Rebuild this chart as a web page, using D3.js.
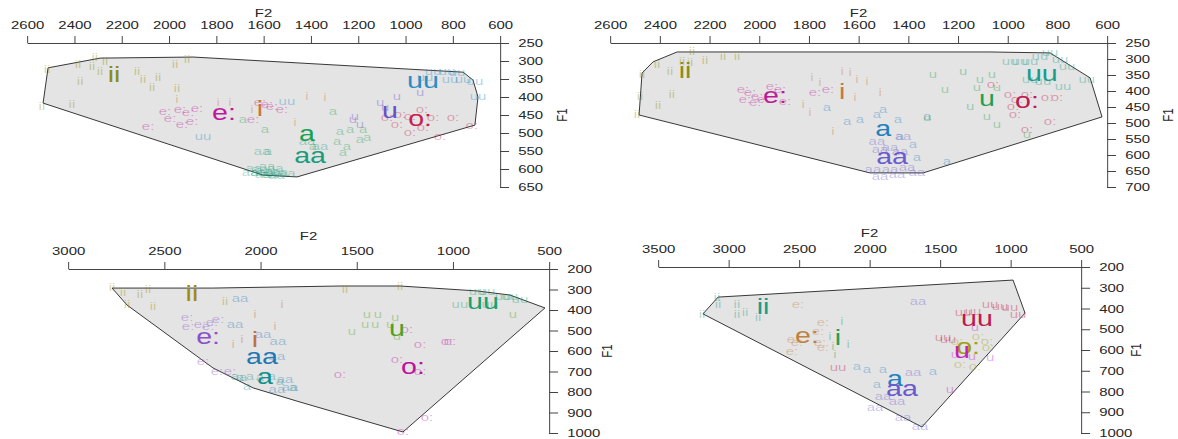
<!DOCTYPE html>
<html>
<head>
<meta charset="utf-8">
<script src="https://cdn.jsdelivr.net/npm/d3@7"></script>
<style>
body { margin: 0; background: #fff; }
svg { display: block; }
text { font-family: "Liberation Sans", Arial, sans-serif; }
</style>
</head>
<body>
<svg id="chart" width="1178" height="439"></svg>
<script>
// ---- data: [vowel, F2, F1] ----

const p1F2Ticks = [2600, 2400, 2200, 2000, 1800, 1600, 1400, 1200, 1000, 800, 600];
const p1F1Ticks = [250, 300, 350, 400, 450, 500, 550, 600, 650];
const p1Means = [["ii",2232,342],["e:",1767,447],["i",1615,436],["a",1416,506],["aa",1403,567],["u",1065,442],["uu",926,358],["o:",938,464]];
const p1Hull = [[2532,417],[2511,319],[2291,292],[1898,289],[756,331],[714,353],[693,400],[706,478],[1458,622],[1602,617]];
const p1Tokens = [
  ["ii",2515,325],["ii",2384,311],["ii",2375,358],["ii",2325,317],["ii",2313,292],["ii",2291,331],["ii",2270,303],["ii",2135,331],
  ["ii",2110,353],["ii",2046,347],["ii",2071,375],["ii",1974,311],["ii",1923,297],["ii",1966,378],["ii",2410,422],["ii",2537,428],
  ["e:",2017,442],["e:",1953,436],["e:",1919,444],["e:",1881,433],["e:",1995,461],["e:",1945,478],["e:",1902,469],["e:",2088,483],
  ["e:",1585,422],["e:",1615,417],["e:",1564,428],["e:",1522,436],["e:",1644,464],
  ["i",1966,408],["i",1792,417],["i",1742,417],["i",1467,472],["i",1416,400],["i",1340,403],["i",1649,436],
  ["uu",1856,511],["uu",1501,414],["uu",883,331],["uu",824,331],["uu",782,333],["uu",756,353],["uu",811,353],["uu",706,358],["uu",693,400],["uu",917,347],
  ["u",1107,417],["u",1036,400],["u",938,389],["u",1213,456],["u",1222,464],["u",1192,478],["u",1086,431],
  ["o:",1078,458],["o:",1023,450],["o:",981,456],["o:",930,436],["o:",883,458],["o:",981,500],["o:",926,486],["o:",799,458],["o:",719,481],["o:",854,511],["o:",1036,478],
  ["a",1687,464],["a",1594,492],["a",1306,442],["a",1277,497],["a",1234,492],["a",1179,492],["a",1162,514],["a",1192,519],["a",1289,525],["a",1247,539],["a",1391,539],["a",1581,553],["a",1264,556],
  ["aa",1615,603],["aa",1585,594],["aa",1560,608],["aa",1530,611],["aa",1573,617],["aa",1602,617],["aa",1657,611],["aa",1606,553],["aa",1361,539],["aa",1416,525],
  ["aa",1640,600],["aa",1550,600],["aa",1590,610],["aa",1620,612],["aa",1545,620],["aa",1500,615]
];

const p2F2Ticks = [2600, 2400, 2200, 2000, 1800, 1600, 1400, 1200, 1000, 800, 600];
const p2F1Ticks = [250, 300, 350, 400, 450, 500, 550, 600, 650, 700];
const p2Means = [["ii",2298,341],["e:",1936,419],["i",1666,406],["a",1501,522],["aa",1465,609],["u",1083,428],["uu",862,350],["o:",922,434]];
const p2Hull = [[2483,475],[2471,344],[2427,309],[2330,278],[1071,278],[829,281],[668,359],[620,481],[1340,656],[1554,656]];
const p2Tokens = [
  ["ii",2471,350],["ii",2411,319],["ii",2359,341],["ii",2310,309],["ii",2278,313],["ii",2270,278],["ii",2218,306],["ii",2145,294],
  ["ii",2089,294],["ii",2351,413],["ii",2407,447],["ii",2479,419],["ii",2491,475],
  ["e:",2065,397],["e:",2037,406],["e:",2008,419],["e:",2016,438],["e:",1984,428],["e:",1948,388],["e:",1916,397],["e:",1896,434],
  ["e:",2057,428],["e:",1723,397],["e:",1775,406],
  ["i",1787,359],["i",1755,375],["i",1666,341],["i",1634,344],["i",1606,366],["i",1566,372],["i",1614,422],["i",1513,406],
  ["i",1795,469],["i",1823,444],["i",1703,528],
  ["a",1727,453],["a",1646,497],["a",1594,491],["a",1526,475],["a",1501,459],["a",1441,491],["a",1381,569],["a",1365,609],
  ["a",1244,622],["a",1324,481],["a",1433,544],
  ["aa",1526,559],["aa",1473,578],["aa",1421,544],["aa",1513,584],["aa",1542,647],["aa",1473,647],["aa",1405,641],["aa",1365,656],
  ["aa",1513,669],["aa",1445,663],["aa",1433,591],
  ["u",1300,350],["u",1179,341],["u",1111,366],["u",1063,350],["u",1123,391],["u",1043,391],["u",1151,450],["u",1083,481],
  ["u",1043,506],["u",1324,484],["u",1252,397],["u",922,538],
  ["uu",990,309],["uu",950,309],["uu",910,309],["uu",870,294],["uu",829,281],["uu",789,303],["uu",761,325],["uu",910,366],
  ["uu",858,372],["uu",777,388],["uu",681,366],
  ["o:",1059,381],["o:",990,413],["o:",962,428],["o:",922,413],["o:",978,450],["o:",970,475],["o:",841,422],["o:",801,422],
  ["o:",829,497],["o:",922,522]
];

const p3F2Ticks = [3000, 2500, 2000, 1500, 1000, 500];
const p3F1Ticks = [200, 300, 400, 500, 600, 700, 800, 900, 1000];
const p3Means = [["ii",2356,330],["e:",2272,537],["i",2028,551],["aa",1992,634],["a",1976,732],["u",1290,498],["uu",843,366],["o:",1207,683]];
const p3Hull = [[2771,293],[2246,293],[1586,283],[1274,283],[874,307],[703,327],[521,390],[1259,995],[1794,849],[2038,780],[2246,683],[2693,376]];
const p3Tokens = [
  ["ii",2771,293],["ii",2714,317],["ii",2693,376],["ii",2626,327],["ii",2584,302],["ii",2558,385],["ii",2184,361],["ii",1560,302],["ii",1274,288],
  ["e:",2381,439],["e:",2376,483],["e:",2314,473],["e:",2272,483],["e:",2252,463],["e:",2220,449],["e:",2298,654],["e:",2226,702],["e:",2158,702],
  ["i",2028,424],["i",2142,571],["i",2096,546],["i",1924,483],["i",1888,376],
  ["aa",2106,346],["aa",2132,473],["aa",1986,522],["aa",1909,556],["aa",1914,629],["aa",1872,741],["aa",1914,790],["aa",1846,780],
  ["a",2054,727],["a",2002,732],["a",1940,727],["a",1898,751],["a",1831,780],["a",2090,732],["a",2070,776],["a",2132,727],["a",2106,732],
  ["u",1524,507],["u",1456,473],["u",1404,473],["u",1326,473],["u",1300,439],["u",1290,532],["u",1446,424],["u",1389,424],["u",687,424],
  ["uu",963,376],["uu",874,312],["uu",822,312],["uu",807,376],["uu",739,337],["uu",703,337],["uu",651,351],
  ["o:",1238,498],["o:",1170,571],["o:",1030,556],["o:",1015,556],["o:",1290,644],["o:",1586,717],["o:",1170,702],["o:",1134,927],["o:",1259,995]
];

const p4F2Ticks = [3500, 3000, 2500, 2000, 1500, 1000, 500];
const p4F1Ticks = [200, 300, 400, 500, 600, 700, 800, 900, 1000];
const p4Means = [["ii",2755,398],["e:",2443,537],["i",2223,547],["a",1819,745],["aa",1770,793],["uu",1238,455],["o:",1301,590],["u",1344,610]];
const p4Hull = [[3181,426],[3074,345],[982,263],[897,422],[1628,971]];
const p4Tokens = [
  ["ii",3082,349],["ii",3074,383],["ii",3188,431],["ii",2940,383],["ii",2940,431],["ii",2883,422],["ii",2791,446],
  ["e:",2507,383],["e:",2330,470],["e:",2365,513],["e:",2543,552],["e:",2514,566],["e:",2550,610],["e:",2351,566],["e:",2330,590],
  ["i",2195,465],["i",2280,537],["i",2259,586],["i",2245,624],["i",2152,576],
  ["a",2089,682],["a",2018,696],["a",1904,696],["a",1947,769],["a",1550,706],
  ["aa",1656,369],["aa",1691,711],["aa",1904,827],["aa",1805,851],["aa",1961,880],["aa",1762,928],["aa",1642,971],
  ["uu",1337,422],["uu",1266,417],["uu",1145,383],["uu",1074,393],["uu",1004,398],["uu",947,431],["uu",1479,542],["uu",1443,552],["uu",2223,687],
  ["u",1394,624],["u",1273,634],["u",1429,793],["u",1145,639],["u",1252,494],
  ["o:",1379,561],["o:",1230,537],["o:",1167,561],["o:",1160,590],["o:",1358,672],["o:",1252,682]
];

// ---- colours per panel ----
const p1Colors = {"ii":"#8c8c14","e:":"#c0189a","i":"#c8783c","a":"#1a9f50","aa":"#1a9c7c","u":"#6a50c8","uu":"#2b8cc4","o:":"#c81e50"};
const p2Colors = {"ii":"#8c8c14","e:":"#c0189a","i":"#c8783c","a":"#1f80c0","aa":"#6a5acd","u":"#1fa050","uu":"#1a9c8c","o:":"#c01850"};
const p3Colors = {"ii":"#a08a10","e:":"#8a50c8","i":"#c0703c","aa":"#1f78b4","a":"#10908c","u":"#50a020","uu":"#1aa070","o:":"#c010a0"};
const p4Colors = {"ii":"#1a9a8c","e:":"#c08040","i":"#20a050","a":"#1f80c0","aa":"#6a5acd","uu":"#c01850","o:":"#a0a010","u":"#c020c0"};

// the picture is stretched sideways, so draw in a squeezed frame
const SX = 1.3;

const panels = [
  {tokens: p1Tokens, means: p1Means, hull: p1Hull, colors: p1Colors, xTicks: p1F2Ticks, yTicks: p1F1Ticks,
   x0: 27, x1: 500, y0: 43, y1: 187, titleGap: 30, f1Gap: 67},
  {tokens: p2Tokens, means: p2Means, hull: p2Hull, colors: p2Colors, xTicks: p2F2Ticks, yTicks: p2F1Ticks,
   x0: 610, x1: 1107, y0: 43, y1: 187, titleGap: 30, f1Gap: 66},
  {tokens: p3Tokens, means: p3Means, hull: p3Hull, colors: p3Colors, xTicks: p3F2Ticks, yTicks: p3F1Ticks,
   x0: 68, x1: 549, y0: 269, y1: 433, titleGap: 33, f1Gap: 63},
  {tokens: p4Tokens, means: p4Means, hull: p4Hull, colors: p4Colors, xTicks: p4F2Ticks, yTicks: p4F1Ticks,
   x0: 658, x1: 1081, y0: 267, y1: 433, titleGap: 34, f1Gap: 60}
];

const svg = d3.select("#chart");
const root = svg.append("g").attr("transform", "scale(" + SX + ",1)");

panels.forEach(drawPanel);

function drawPanel(p) {
  const xs = d3.scaleLinear()
    .domain([p.xTicks[0], p.xTicks[p.xTicks.length - 1]])
    .range([p.x0 / SX, p.x1 / SX]);
  const ys = d3.scaleLinear()
    .domain([p.yTicks[0], p.yTicks[p.yTicks.length - 1]])
    .range([p.y0, p.y1]);

  const g = root.append("g");

  // hull
  g.append("path")
    .datum(p.hull)
    .attr("d", d3.line().x(d => xs(d[0])).y(d => ys(d[1])).curve(d3.curveLinearClosed))
    .attr("fill", "#e4e4e4")
    .attr("stroke", "#222")
    .attr("stroke-width", 0.9)
    .attr("vector-effect", "non-scaling-stroke");

  // single tokens
  g.selectAll("text.tok")
    .data(p.tokens)
    .join("text")
    .attr("class", "tok")
    .attr("x", d => xs(d[1]))
    .attr("y", d => ys(d[2]))
    .attr("dy", "0.26em")
    .attr("text-anchor", "middle")
    .attr("font-size", 11.5)
    .attr("fill", d => p.colors[d[0]])
    .attr("fill-opacity", 0.38)
    .text(d => d[0]);

  // vowel means
  g.selectAll("text.mean")
    .data(p.means)
    .join("text")
    .attr("class", "mean")
    .attr("x", d => xs(d[1]))
    .attr("y", d => ys(d[2]))
    .attr("dy", "0.26em")
    .attr("text-anchor", "middle")
    .attr("font-size", 22)
    .attr("fill", d => p.colors[d[0]])
    .text(d => d[0]);

  // axes
  const fmt = d3.format("d");
  const xAxis = d3.axisTop(xs).tickValues(p.xTicks).tickFormat(fmt).tickSize(7).tickPadding(7).tickSizeOuter(0);
  const yAxis = d3.axisRight(ys).tickValues(p.yTicks).tickFormat(fmt).tickSize(7).tickPadding(7).tickSizeOuter(0);

  const gx = g.append("g").attr("transform", "translate(0," + p.y0 + ")").call(xAxis);
  const gy = g.append("g").attr("transform", "translate(" + (p.x1 / SX) + ",0)").call(yAxis);

  [gx, gy].forEach(a => {
    a.attr("font-family", null).attr("font-size", null);
    a.selectAll("path, line").attr("stroke", "#444").attr("vector-effect", "non-scaling-stroke");
    a.selectAll("text").attr("fill", "#262626").attr("font-size", 11.5);
  });

  g.append("text")
    .attr("x", (p.x0 + p.x1) / 2 / SX)
    .attr("y", p.y0 - p.titleGap + 4)
    .attr("text-anchor", "middle")
    .attr("font-size", 11.5)
    .attr("fill", "#262626")
    .text("F2");

  g.append("text")
    .attr("transform", "translate(" + ((p.x1 + p.f1Gap) / SX) + "," + ((p.y0 + p.y1) / 2) + ") rotate(-90)")
    .attr("text-anchor", "middle")
    .attr("font-size", 11.5)
    .attr("fill", "#262626")
    .text("F1");
}
</script>
</body>
</html>
